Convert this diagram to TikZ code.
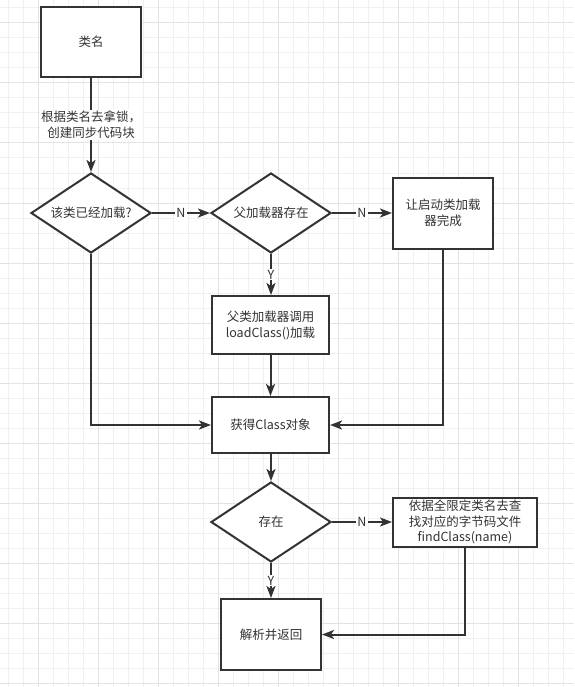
\documentclass[tikz,border=0pt]{standalone}
\usepackage{fontspec}
\setmainfont{Noto Sans CJK SC}
\usetikzlibrary{arrows.meta,shapes.geometric}
\definecolor{ink}{HTML}{333333}
\definecolor{gridminor}{HTML}{F0F0F0}
\definecolor{gridmajor}{HTML}{E3E3E3}
\begin{document}
\begin{tikzpicture}[x=1pt,y=-1pt,
  every node/.style={font=\fontsize{12.5}{16}\selectfont, text=ink},
  proc/.style={rectangle, draw=ink, line width=2pt, fill=white, align=center, inner sep=0pt},
  dec/.style={diamond, draw=ink, line width=2pt, fill=white, minimum width=120pt, minimum height=80pt, inner sep=0pt},
  conn/.style={draw=ink, line width=2pt, -{Stealth[length=12pt,width=9pt,inset=3pt]}},
  lab/.style={fill=white, inner sep=1pt, align=center}]
\useasboundingbox (0,0) rectangle (574,687);
\fill[white] (0,0) rectangle (574,687);
\foreach \x in {8,23,...,563} \draw[gridminor, line width=1pt] (\x,0) -- (\x,687);
\foreach \y in {8,23,...,683} \draw[gridminor, line width=1pt] (0,\y) -- (574,\y);
\foreach \x in {38,98,...,518} \draw[gridmajor, line width=1pt] (\x,0) -- (\x,687);
\foreach \y in {23,83,...,683} \draw[gridmajor, line width=1pt] (0,\y) -- (574,\y);

\node[proc, minimum width=100pt, minimum height=70pt] (cname) at (91,42) {类名};
\node[dec, label=center:{该类已经加载?}] (d1) at (91,213) {};
\node[dec, label=center:{父加载器存在}] (d2) at (271,213) {};
\node[proc, minimum width=100pt, minimum height=71pt] (boot) at (443,213) {让启动类加载\\器完成};
\node[proc, minimum width=117pt, minimum height=58pt] (parent) at (270.5,325) {父类加载器调用\\loadClass()加载};
\node[proc, minimum width=117pt, minimum height=56pt] (get) at (270.5,425) {获得Class对象};
\node[dec, label=center:{存在}] (d3) at (271,522) {};
\node[proc, minimum width=144pt, minimum height=49pt, font=\fontsize{12.5}{15.5}\selectfont] (find) at (465,522) {依据全限定类名去查\\找对应的字节码文件\\findClass(name)};
\node[proc, minimum width=100pt, minimum height=71pt] (ret) at (271,634.5) {解析并返回};

\draw[conn] (cname) -- node[lab]{根据类名去拿锁，\\创建同步代码块} (d1);
\draw[conn] (d1) -- node[lab]{N} (d2);
\draw[conn] (d2) -- node[lab]{N} (boot);
\draw[conn] (d2.south) -- node[lab]{Y} (d2.south|-parent.north);
\draw[conn] (parent) -- (get);
\draw[conn] (d1.south) |- (get.west);
\draw[conn] (boot.south) |- (get.east);
\draw[conn] (get.south-|d3.north) -- (d3.north);
\draw[conn] (d3) -- node[lab]{N} (find);
\draw[conn] (d3.south) -- node[lab]{Y} (ret.north);
\draw[conn] (find.south) |- (ret.east);
\end{tikzpicture}
\end{document}
